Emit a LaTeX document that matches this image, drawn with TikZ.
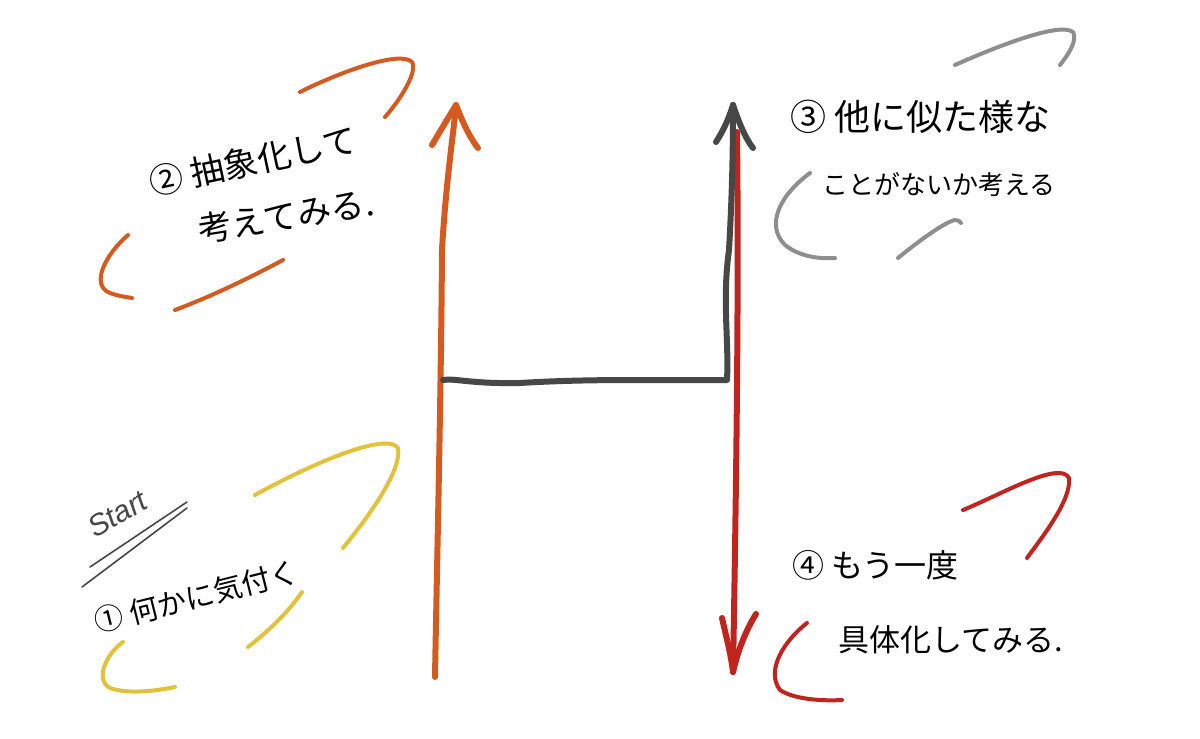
\documentclass[tikz,border=0pt]{standalone}
\usepackage{fontspec}
\newfontfamily\jp{Noto Sans CJK JP}
\setmainfont{Liberation Sans}
\definecolor{cOrange}{HTML}{D45A1F}
\definecolor{cDark}{HTML}{474747}
\definecolor{cRed}{HTML}{C1241F}
\definecolor{cGray}{HTML}{8E8E8E}
\definecolor{cYellow}{HTML}{E2C23A}
\tikzset{
  pen/.style={line width=#1, line cap=round, line join=round},
  arc/.style={line width=4pt, line cap=round, line join=round},
  lbl/.style={font=\jp, inner sep=0pt, anchor=west, text=black},
}
\begin{document}
\begin{tikzpicture}[x=1pt,y=-1pt]
\useasboundingbox[fill=white] (0,0) rectangle (1200,739);

% coordinates
\coordinate (oB) at (435,677);
\coordinate (oT) at (456,105);
\coordinate (oL) at (432,145);
\coordinate (oR) at (478,148);
\coordinate (hL) at (443,380);
\coordinate (hC) at (727,380);
\coordinate (gT) at (733,105);
\coordinate (gL) at (716,142);
\coordinate (gR) at (753,148);
\coordinate (rT) at (737,132);
\coordinate (rB) at (733,672);
\coordinate (rL) at (722,618);
\coordinate (rR) at (756,614);
\coordinate (s1a) at (90,567);
\coordinate (s1b) at (187,502);
\coordinate (s2a) at (82,587);
\coordinate (s2b) at (187,508);

% orange arrow (abstraction)
\draw[pen=6pt, cOrange] (oB) .. controls (437,560) and (441,400) .. (442,250) .. controls (446,180) and (454,130) .. (oT);
\draw[pen=6pt, cOrange] (oL) .. controls (442,128) and (450,115) .. (oT) .. controls (462,120) and (468,135) .. (oR);

% red arrow (concretize)
\draw[pen=6pt, cRed] (rT) .. controls (739,300) and (736,500) .. (rB);
\draw[pen=6pt, cRed] (rL) .. controls (727,640) and (731,655) .. (rB) .. controls (738,650) and (746,630) .. (rR);

% dark gray path
\draw[pen=6pt, cDark] (hL) .. controls (455,378) and (470,384) .. (520,383) .. controls (600,378) and (680,381) .. (hC)
  .. controls (729,340) and (722,300) .. (729,250) .. controls (733,180) and (733,130) .. (gT);
\draw[pen=6pt, cDark] (gL) .. controls (725,128) and (730,115) .. (gT) .. controls (738,120) and (745,138) .. (gR);

% orange arcs
\draw[arc, cOrange] (300,92) .. controls (340,72) and (400,50) .. (412,62) .. controls (418,72) and (400,100) .. (385,117);
\draw[arc, cOrange] (128,235) .. controls (105,255) and (90,285) .. (110,293) .. controls (118,296) and (126,297) .. (132,298);
\draw[arc, cOrange] (175,310) .. controls (215,295) and (255,275) .. (283,260);

% gray arcs
\draw[arc, cGray] (955,65) .. controls (1000,45) and (1060,22) .. (1073,32) .. controls (1078,40) and (1068,55) .. (1060,65);
\draw[arc, cGray] (810,173) .. controls (780,195) and (765,225) .. (785,245) .. controls (800,257) and (820,259) .. (835,258);
\draw[arc, cGray] (898,258) .. controls (920,240) and (945,222) .. (955,220) .. controls (958,220) and (960,221) .. (961,223);

% yellow arcs
\draw[arc, cYellow] (255,495) .. controls (300,470) and (385,430) .. (398,448) .. controls (402,470) and (370,515) .. (343,548);
\draw[arc, cYellow] (123,642) .. controls (105,655) and (95,680) .. (110,688) .. controls (130,695) and (160,690) .. (175,687);
\draw[arc, cYellow] (248,647) .. controls (270,630) and (290,610) .. (302,592);

% red arcs
\draw[arc, cRed] (963,510) .. controls (1000,495) and (1060,460) .. (1069,478) .. controls (1072,500) and (1040,540) .. (1027,558);
\draw[arc, cRed] (807,623) .. controls (785,640) and (765,670) .. (780,690) .. controls (795,700) and (825,701) .. (842,700);

% texts
\node[lbl, font=\jp\fontsize{34}{34}\selectfont, rotate=12] (t2a) at (150,183) {② 抽象化して};
\node[lbl, font=\jp\fontsize{34}{34}\selectfont, rotate=9] (t2b) at (198,230) {考えてみる.};

\node[lbl, font=\jp\fontsize{36}{36}\selectfont] (t3a) at (790,117) {③ 他に似た様な};
\node[lbl, font=\jp\fontsize{26}{26}\selectfont] (t3b) at (822,185) {ことがないか考える};

\node[lbl, font=\jp\fontsize{29}{29}\selectfont, rotate=14] (t1) at (95,622) {① 何かに気付く};
\node[lbl, font=\fontsize{30}{30}\selectfont\itshape, text=cDark, rotate=30] (ts) at (90,530) {Start};
\draw[pen=1.6pt, cDark] (s1a) -- (s1b);
\draw[pen=1.6pt, cDark] (s2a) -- (s2b);

\node[lbl, font=\jp\fontsize{32}{32}\selectfont] (t4a) at (792,565) {④ もう一度};
\node[lbl, font=\jp\fontsize{31}{31}\selectfont] (t4b) at (838,640) {具体化してみる.};
\end{tikzpicture}
\end{document}
